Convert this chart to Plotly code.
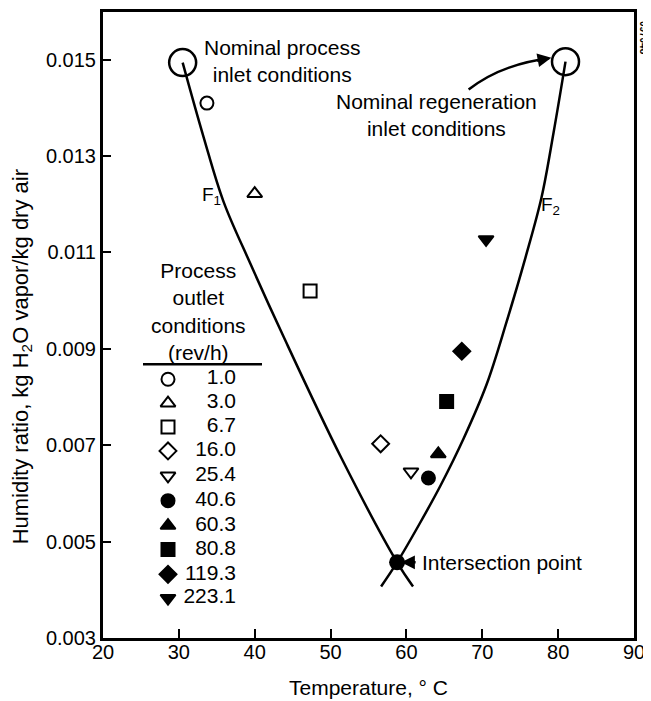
import plotly.graph_objects as go

# ---- data ----
rev_labels = ["1.0", "3.0", "6.7", "16.0", "25.4", "40.6", "60.3", "80.8", "119.3", "223.1"]
outlet_temp = [33.7, 40.0, 47.3, 56.6, 60.6, 62.9, 64.2, 65.3, 67.3, 70.5]
outlet_w = [0.0141, 0.01222, 0.0102, 0.00703, 0.00645, 0.00632, 0.00682, 0.00791, 0.00895, 0.01127]
symbols = ["circle-open", "triangle-up-open", "square-open", "diamond-open", "triangle-down-open",
           "circle", "triangle-up", "square", "diamond", "triangle-down"]

f1_temp = [30.5, 33.27, 35.9, 39.45, 43.78, 51.41, 58.77, 60.87]
f1_w = [0.01494, 0.01339, 0.01205, 0.01076, 0.00926, 0.00674, 0.00457, 0.00407]
f2_temp = [80.97, 79.4, 77.82, 75.72, 73.22, 70.59, 67.57, 64.55, 61.66, 58.77, 56.66]
f2_w = [0.01496, 0.01349, 0.01215, 0.01091, 0.00957, 0.00827, 0.00715, 0.00618, 0.00535, 0.00457, 0.00407]

nominal_temp = [30.5, 80.97]
nominal_w = [0.01494, 0.01496]
intersect_temp = [58.77]
intersect_w = [0.00457]

x_ticks = [20, 30, 40, 50, 60, 70, 80, 90]
y_ticks = [0.003, 0.005, 0.007, 0.009, 0.011, 0.013, 0.015]
y_ticktext = ["0.003", "0.005", "0.007", "0.009", "0.011", "0.013", "0.015"]

FONT = "Liberation Sans, Arial, Helvetica, sans-serif"
FS = 20
AFS = 21

# plot area in page pixels (browser body has an 8px margin)
PL, PR, PT, PB = 103, 634, 9, 638
OFF = 8
W, H = 651 - OFF, 701 - OFF


def px(x):
    return (x - PL) / (PR - PL)


def py(y):
    return (PB - y) / (PB - PT)


fig = go.Figure()

line_style = dict(color="black", width=2.5, shape="spline", smoothing=1.0)
fig.add_trace(go.Scatter(x=f1_temp, y=f1_w, mode="lines", line=line_style, showlegend=False, hoverinfo="skip"))
fig.add_trace(go.Scatter(x=f2_temp, y=f2_w, mode="lines", line=line_style, showlegend=False, hoverinfo="skip"))
fig.add_trace(go.Scatter(x=nominal_temp, y=nominal_w, mode="markers",
                         marker=dict(symbol="circle-open", size=27, color="black", line=dict(width=2.5)),
                         showlegend=False))
fig.add_trace(go.Scatter(x=intersect_temp, y=intersect_w, mode="markers",
                         marker=dict(symbol="circle", size=16, color="black"), showlegend=False))

for lab, t, w, sym in zip(rev_labels, outlet_temp, outlet_w, symbols):
    fig.add_trace(go.Scatter(x=[t], y=[w], mode="markers", name=lab, showlegend=False,
                             marker=dict(symbol=sym, size=13, color="black", line=dict(width=2, color="black"))))

# hand-drawn legend (symbol column + right-aligned values) on a pixel overlay axis
legend_rows = [378, 402, 426, 450, 475, 500, 525, 549, 574, 598]
fig.add_trace(go.Scatter(x=[168] * len(rev_labels), y=legend_rows, mode="markers", xaxis="x2", yaxis="y2",
                         marker=dict(symbol=symbols, size=13, color="black", line=dict(width=2, color="black")),
                         showlegend=False, hoverinfo="skip"))
fig.add_trace(go.Scatter(x=[236] * len(rev_labels), y=legend_rows, mode="text", xaxis="x2", yaxis="y2",
                         text=rev_labels, textposition="middle left", textfont=dict(size=AFS),
                         showlegend=False, hoverinfo="skip"))

fig.update_layout(
    width=W, height=H,
    margin=dict(l=PL - OFF, r=W - (PR - OFF), t=PT - OFF, b=H - (PB - OFF), pad=0),
    paper_bgcolor="white", plot_bgcolor="white",
    font=dict(family=FONT, size=FS, color="black"),
    showlegend=False,
    xaxis=dict(range=[20, 90], tickvals=x_ticks, ticks="inside", ticklen=9, tickwidth=2, tickcolor="black",
               showline=True, linewidth=3, linecolor="black", mirror=True, showgrid=False, zeroline=False,
               tickfont=dict(size=FS), ticklabelstandoff=-6),
    yaxis=dict(range=[0.003, 0.01599], tickvals=y_ticks, ticktext=y_ticktext, ticks="inside", ticklen=8,
               tickwidth=2, tickcolor="black", showline=True, linewidth=3, linecolor="black", mirror=True,
               showgrid=False, zeroline=False, tickfont=dict(size=FS)),
    xaxis2=dict(overlaying="x", range=[PL, PR], visible=False),
    yaxis2=dict(overlaying="y", range=[PB, PT], visible=False),
)

# curved arrow to the regeneration inlet point
fig.add_shape(type="path", xref="x", yref="y",
              path="M 68.2,0.01438 Q 72.4,0.0149 78.8,0.01503",
              line=dict(color="black", width=2.5))

ann = [
    dict(text="Nominal process<br>inlet conditions", x=px(202), y=py(58), xref="paper", yref="paper",
         xanchor="left", yanchor="middle", align="center", showarrow=False, font=dict(size=AFS)),
    dict(text="Nominal regeneration<br>inlet conditions", x=px(436), y=py(112), xref="paper", yref="paper",
         xanchor="center", yanchor="middle", align="center", showarrow=False, font=dict(size=AFS)),
    dict(text="", x=79.1, y=0.01504, xref="x", yref="y", ax=-16, ay=3, showarrow=True,
         arrowhead=2, arrowsize=1.1, arrowwidth=2.5, arrowcolor="black"),
    dict(text="Intersection point", x=px(420), y=py(562), xref="paper", yref="paper",
         xanchor="left", yanchor="middle", showarrow=False, font=dict(size=AFS)),
    dict(text="", x=59.3, y=0.00457, xref="x", yref="y", ax=16, ay=0, showarrow=True,
         arrowhead=2, arrowsize=1.1, arrowwidth=2.5, arrowcolor="black"),
    dict(text="F<sub>1</sub>", x=px(200), y=py(180), xref="paper", yref="paper", showarrow=False,
         font=dict(size=19)),
    dict(text="F<sub>2</sub>", x=px(562), y=py(190), xref="paper", yref="paper", showarrow=False,
         font=dict(size=19)),
    dict(text="Process<br>outlet<br>conditions<br>(rev/h)", x=px(198), y=py(310), xref="paper", yref="paper",
         xanchor="center", yanchor="middle", align="center", showarrow=False, font=dict(size=AFS)),
    dict(text="Temperature, ° C", x=px(368), y=py(688), xref="paper", yref="paper",
         xanchor="center", yanchor="middle", showarrow=False, font=dict(size=AFS)),
    dict(text="Humidity ratio, kg H<sub>2</sub>O vapor/kg dry air", x=px(22), y=py(356),
         xref="paper", yref="paper", xanchor="center", yanchor="middle", textangle=-90, showarrow=False,
         font=dict(size=22)),
    dict(text="<b>097048</b>", x=px(643), y=py(35), xref="paper", yref="paper", xanchor="center",
         yanchor="middle", textangle=90, showarrow=False, font=dict(size=10)),
]
fig.update_layout(annotations=ann)

fig.add_shape(type="line", xref="paper", yref="paper", x0=px(143), x1=px(262), y0=py(363), y1=py(363),
              line=dict(color="black", width=2.5))

fig.write_html("out.html")
